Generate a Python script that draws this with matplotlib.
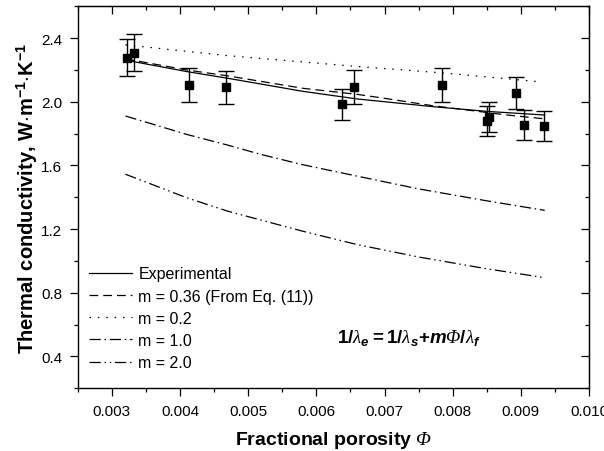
import matplotlib
matplotlib.use("Agg")
import matplotlib.pyplot as plt
from matplotlib.ticker import MultipleLocator, FormatStrFormatter

plt.rcParams['font.family'] = ['Liberation Sans', 'DejaVu Sans']
plt.rcParams['mathtext.fontset'] = 'custom'
plt.rcParams['mathtext.rm'] = 'Liberation Sans:bold'
plt.rcParams['mathtext.bf'] = 'Liberation Sans:bold'
plt.rcParams['mathtext.it'] = 'Liberation Sans:bold:italic'
plt.rcParams['mathtext.sf'] = 'Liberation Serif:italic'

# Experimental data
porosity = [0.00322, 0.00332, 0.00413, 0.00467, 0.00637, 0.00655, 0.00785,
            0.00850, 0.00854, 0.00893, 0.00905, 0.00934]
conductivity = [2.278, 2.308, 2.106, 2.091, 1.984, 2.093, 2.106,
                1.879, 1.904, 2.055, 1.854, 1.848]
errors = [0.114, 0.115, 0.105, 0.105, 0.099, 0.105, 0.105,
          0.094, 0.095, 0.103, 0.093, 0.092]

# Curves
exp_x = [0.0032, 0.0041, 0.0047, 0.0058, 0.0066, 0.0077, 0.0085, 0.00935]
exp_y = [2.262, 2.190, 2.148, 2.066, 2.018, 1.970, 1.940, 1.917]

m036_x = [0.0032, 0.0041, 0.0047, 0.0058, 0.0066, 0.0070, 0.0077, 0.0088, 0.00935]
m036_y = [2.270, 2.200, 2.163, 2.085, 2.047, 2.022, 1.976, 1.917, 1.893]

m02_x = [0.0032, 0.0047, 0.0066, 0.0079, 0.00925]
m02_y = [2.358, 2.290, 2.222, 2.180, 2.127]

m10_x = [0.0032, 0.0041, 0.0047, 0.0052, 0.0058, 0.0066, 0.0075, 0.0085, 0.00935]
m10_y = [1.911, 1.795, 1.728, 1.668, 1.605, 1.533, 1.453, 1.378, 1.318]

m20_x = [0.0032, 0.0041, 0.0047, 0.0058, 0.0066, 0.0075, 0.0085, 0.00935]
m20_y = [1.545, 1.397, 1.313, 1.187, 1.103, 1.025, 0.951, 0.895]

fig = plt.figure(figsize=(6.04, 4.52), dpi=100)
ax = fig.add_axes([0.1287, 0.1387, 0.8465, 0.8451])

lw = 0.9
ax.plot(exp_x, exp_y, color='black', lw=lw, label='Experimental')
ax.plot(m036_x, m036_y, color='black', lw=lw, dashes=(7, 4), label='m = 0.36 (From Eq. (11))')
ax.plot(m02_x, m02_y, color='black', lw=lw, dashes=(1.2, 5.5), label='m = 0.2')
ax.plot(m10_x, m10_y, color='black', lw=lw, dashes=(9, 3, 1.2, 3), label='m = 1.0')
ax.plot(m20_x, m20_y, color='black', lw=lw, dashes=(9, 3, 1.2, 3, 1.2, 3), label='m = 2.0')

ax.errorbar(porosity, conductivity, yerr=errors, fmt='s', color='black',
            ms=6, capsize=6, elinewidth=1, capthick=1, zorder=5)

ax.set_xlim(0.0025, 0.010)
ax.set_ylim(0.2, 2.6)
ax.xaxis.set_major_locator(MultipleLocator(0.001))
ax.xaxis.set_minor_locator(MultipleLocator(0.0005))
ax.yaxis.set_major_locator(MultipleLocator(0.4))
ax.yaxis.set_minor_locator(MultipleLocator(0.2))
ax.xaxis.set_major_formatter(FormatStrFormatter('%.3f'))
ax.yaxis.set_major_formatter(FormatStrFormatter('%.1f'))
ax.tick_params(which='both', direction='out', labelsize=11, width=0.9)
ax.tick_params(which='major', length=6, pad=5)
ax.tick_params(which='minor', length=3)
for s in ax.spines.values():
    s.set_linewidth(1.0)

# mirrored ticks pointing inward on top and right
axt = ax.secondary_xaxis('top')
axt.xaxis.set_major_locator(MultipleLocator(0.001))
axt.xaxis.set_minor_locator(MultipleLocator(0.0005))
axt.tick_params(which='both', direction='in', labeltop=False, width=0.9)
axt.tick_params(which='major', length=6)
axt.tick_params(which='minor', length=3)
axr = ax.secondary_yaxis('right')
axr.yaxis.set_major_locator(MultipleLocator(0.4))
axr.yaxis.set_minor_locator(MultipleLocator(0.2))
axr.tick_params(which='both', direction='in', labelright=False, width=0.9)
axr.tick_params(which='major', length=6)
axr.tick_params(which='minor', length=3)

ax.set_xlabel(r'Fractional porosity $\mathsf{\Phi}$', fontsize=14, fontweight='bold', labelpad=8)
ax.set_ylabel(r'Thermal conductivity, W$\cdot$m$^{-1}$$\cdot$K$^{-1}$', fontsize=14.5,
              fontweight='bold', labelpad=1)

ax.text(0.00631, 0.52,
        r'$1/\mathsf{\lambda}_{e}{=}1/\mathsf{\lambda}_{s}{+}m\mathsf{\Phi}/\mathsf{\lambda}_{f}$',
        fontsize=13.5, ha='left', va='center')

leg = ax.legend(loc='upper left', bbox_to_anchor=(0.022, 0.319), frameon=False,
                fontsize=11.5, handlelength=2.7, handletextpad=0.4,
                labelspacing=0.45, borderpad=0, borderaxespad=0)

fig.savefig('out.png', dpi=100)
